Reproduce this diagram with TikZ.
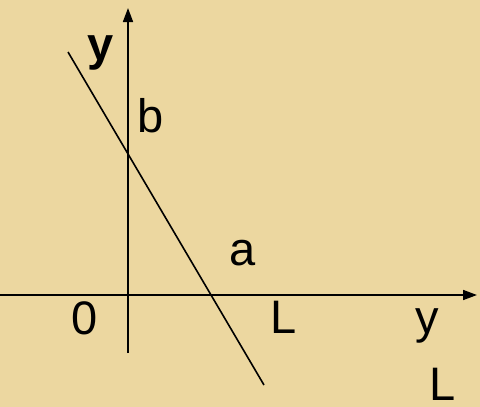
\documentclass[tikz,border=0pt]{standalone}
\usepackage{fontspec}
\setmainfont{Liberation Sans}
\usetikzlibrary{arrows.meta}
\definecolor{papyrus}{RGB}{236,215,160}
\definecolor{ink}{RGB}{0,0,0}

\tikzset{
  axis/.style={draw=ink,line width=1.6pt,-{Triangle[length=14pt,width=10pt]}},
  graphline/.style={draw=ink,line width=1.6pt},
  lbl/.style={inner sep=0pt,anchor=base,text=ink,font=\fontsize{47}{50}\selectfont}
}

\begin{document}
\begin{tikzpicture}[x=1pt,y=-1pt]
    \fill[papyrus] (0,0) rectangle (480,407);
    \useasboundingbox (0,0) rectangle (480,407);
    % axes
    \coordinate (ybot) at (128,353);
    \coordinate (ytop) at (128,8);
    \coordinate (xleft) at (0,295);
    \coordinate (xright) at (477,295);
    \draw[axis] (ybot) -- (ytop);
    \draw[axis] (xleft) -- (xright);
    % the falling line
    \coordinate (p) at (68,52);
    \coordinate (q) at (264,385);
    \draw[graphline] (p) -- (q);
    % labels
    \node[lbl,font=\fontsize{47}{50}\selectfont\bfseries] (yaxis) at (101,60) {y};
    \node[lbl] (b) at (151,132) {b};
    \node[lbl] (a) at (243,265) {a};
    \node[lbl] (zero) at (85,334) {0};
    \node[lbl] (L) at (284,333) {L};
    \node[lbl] (yL) at (427,333) {y};
    \node[lbl] (L2) at (443,400) {L};
\end{tikzpicture}
\end{document}
